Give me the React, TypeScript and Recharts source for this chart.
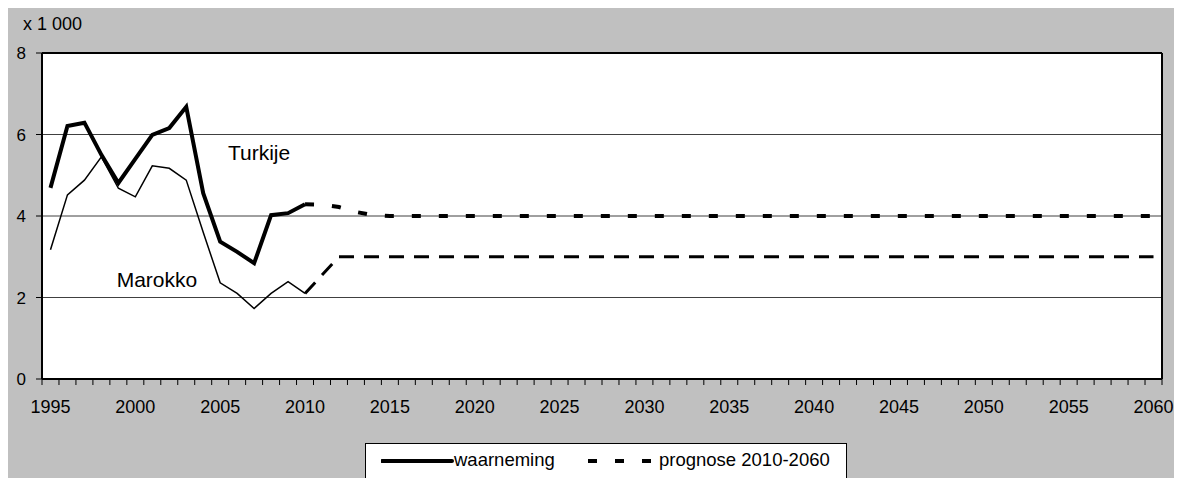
import { LineChart, Line, XAxis, YAxis, CartesianGrid, ReferenceLine, ReferenceDot } from 'recharts'

// categories: one per year, 1995 - 2060
const years = Array.from({ length: 66 }, (_, i) => 1995 + i)

// observed, x 1 000
const obsYears = [1995, 1996, 1997, 1998, 1999, 2000, 2001, 2002, 2003, 2004, 2005, 2006, 2007, 2008, 2009, 2010]
const turkijeObs = [4.69, 6.21, 6.29, 5.5, 4.81, 5.4, 5.99, 6.16, 6.68, 4.56, 3.37, 3.12, 2.84, 4.02, 4.07, 4.29]
const marokkoObs = [3.17, 4.52, 4.88, 5.45, 4.68, 4.47, 5.23, 5.17, 4.88, 3.6, 2.36, 2.1, 1.73, 2.1, 2.39, 2.1]

// forecast 2010 - 2060
const progYears = years.filter((y) => y >= 2010)
const turkijeProg = [
  4.29, 4.28, 4.22, 4.1, 4.02, 4, 4, 4, 4, 4,
  4, 4, 4, 4, 4, 4, 4, 4, 4, 4,
  4, 4, 4, 4, 4, 4, 4, 4, 4, 4,
  4, 4, 4, 4, 4, 4, 4, 4, 4, 4,
  4, 4, 4, 4, 4, 4, 4, 4, 4, 4,
  4,
]
const marokkoProg = [
  2.1, 2.55, 3, 3, 3, 3, 3, 3, 3, 3,
  3, 3, 3, 3, 3, 3, 3, 3, 3, 3,
  3, 3, 3, 3, 3, 3, 3, 3, 3, 3,
  3, 3, 3, 3, 3, 3, 3, 3, 3, 3,
  3, 3, 3, 3, 3, 3, 3, 3, 3, 3,
  3,
]

const yTicks = [0, 2, 4, 6, 8]
const xLabelStep = 5

const obsData = obsYears.map((year, i) => ({ year, turkije: turkijeObs[i], marokko: marokkoObs[i] }))
const progData = progYears.map((year, i) => ({ year, turkije: turkijeProg[i], marokko: marokkoProg[i] }))

// tick marks sit between the year categories
const boundaries = [...years.map((y) => y - 0.5), years[years.length - 1] + 0.5]

const FONT = '"Liberation Sans", Arial, sans-serif'
const W = 1175
const H = 472
const PLOT_W = 1120
const HALF = PLOT_W / years.length / 2

const YearTick = (props: any) => {
  const { x, y, payload } = props
  const year = payload.value + 0.5
  if (year % xLabelStep !== 0 || year > years[years.length - 1]) return <g />
  return (
    <text x={x + HALF} y={y} dy="0.71em" textAnchor="middle" fontSize={18} fontFamily={FONT} fill="#000">
      {year}
    </text>
  )
}

export default function App() {
  return (
    <div style={{ position: 'relative', width: W, height: H, margin: '-2px 0 0 -1px', background: '#c0c0c0', fontFamily: FONT }}>
      <div style={{ position: 'absolute', left: 16, top: 9, fontSize: 18, lineHeight: 1, color: '#000' }}>x 1 000</div>
      <LineChart width={W} height={H} margin={{ top: 47, right: 20, bottom: 0, left: 0 }}>
        <CartesianGrid vertical={false} stroke="#404040" strokeWidth={1} fill="#fff" fillOpacity={1} />
        <XAxis
          dataKey="year"
          type="number"
          domain={[boundaries[0], boundaries[boundaries.length - 1]]}
          ticks={boundaries}
          interval={0}
          height={99}
          tick={<YearTick />}
          tickSize={6}
          tickMargin={15}
          axisLine={{ stroke: '#000', strokeWidth: 2 }}
          tickLine={{ stroke: '#000' }}
          allowDuplicatedCategory={false}
        />
        <YAxis
          domain={[0, 8]}
          ticks={yTicks}
          width={35}
          tickSize={6}
          tickMargin={10}
          tick={{ fontSize: 17, fill: '#000', fontFamily: FONT }}
          axisLine={{ stroke: '#000', strokeWidth: 2 }}
          tickLine={{ stroke: '#000' }}
        />
        <ReferenceLine y={8} stroke="#000" strokeWidth={2} />
        <ReferenceLine x={boundaries[boundaries.length - 1]} stroke="#000" strokeWidth={2} />
        <Line data={obsData} dataKey="marokko" stroke="#000" strokeWidth={1.5} dot={false} activeDot={false} isAnimationActive={false} />
        <Line data={progData} dataKey="marokko" stroke="#000" strokeWidth={3} strokeDasharray="15 10" dot={false} activeDot={false} isAnimationActive={false} />
        <Line data={obsData} dataKey="turkije" stroke="#000" strokeWidth={4} dot={false} activeDot={false} isAnimationActive={false} />
        <Line data={progData} dataKey="turkije" stroke="#000" strokeWidth={4} strokeDasharray="9 18" dot={false} activeDot={false} isAnimationActive={false} />
        <ReferenceDot
          x={2005.46}
          y={5.55}
          r={0.01}
          fill="none"
          stroke="none"
          label={{ value: 'Turkije', position: 'right', offset: 0, fontSize: 21, fill: '#000', fontFamily: FONT }}
        />
        <ReferenceDot
          x={1998.9}
          y={2.43}
          r={0.01}
          fill="none"
          stroke="none"
          label={{ value: 'Marokko', position: 'right', offset: 0, fontSize: 21, fill: '#000', fontFamily: FONT }}
        />
      </LineChart>
      <div style={{ position: 'absolute', left: 358, top: 437, width: 480, height: 34, background: '#fff', border: '1px solid #000' }}>
        <svg width={74} height={8} style={{ position: 'absolute', left: 15, top: 13 }}>
          <line x1={1} y1={4} x2={71} y2={4} stroke="#000" strokeWidth={4} strokeLinecap="round" />
        </svg>
        <div style={{ position: 'absolute', left: 88, top: 7, fontSize: 18.5, lineHeight: 1 }}>waarneming</div>
        <svg width={64} height={8} style={{ position: 'absolute', left: 222, top: 13 }}>
          <line x1={0} y1={4} x2={63} y2={4} stroke="#000" strokeWidth={4} strokeDasharray="9 18" />
        </svg>
        <div style={{ position: 'absolute', left: 293, top: 7, fontSize: 18.5, lineHeight: 1 }}>prognose 2010-2060</div>
      </div>
    </div>
  )
}
